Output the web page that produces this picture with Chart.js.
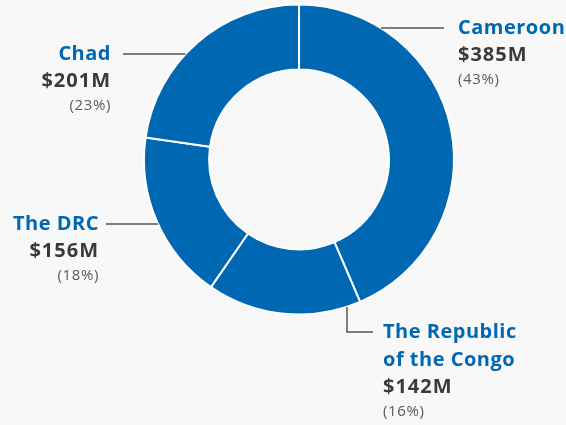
<!DOCTYPE html>
<html>
<head>
<meta charset="utf-8">
<script src="https://cdn.jsdelivr.net/npm/chart.js@4"></script>
<style>
  html, body { margin: 0; padding: 0; background: #f8f8f8; }
  #wrap { width: 566px; height: 425px; }
</style>
</head>
<body>
<div id="wrap"><canvas id="donut"></canvas></div>
<script>
// funding by country, clockwise from 12 o'clock
const countries = ["Cameroon", "The Republic\nof the Congo", "The DRC", "Chad"];
const amounts = [385, 142, 156, 201];           // $M
const shares = ["43%", "16%", "18%", "23%"];

const BLUE = "#0068b3";
const DARK = "#3a3a3a";
const GREY = "#5a5a5a";
const FONT = "'Open Sans', sans-serif";

// where each label block sits and how its leader line runs
const labelLayout = [
  { x: 458, y: 28, align: "left", lead: "h", lineEnd: 444 },
  { x: 383, y: 332, align: "left", lead: "v", lineX: 347, lineEnd: 373 },
  { x: 99, y: 224, align: "right", lead: "h", lineEnd: 106 },
  { x: 111, y: 54, align: "right", lead: "h", lineEnd: 123 },
];

const calloutPlugin = {
  id: "callouts",
  afterDraw(chart) {
    const ctx = chart.ctx;
    const arc = chart.getDatasetMeta(0).data[0];
    const cx = arc.x, cy = arc.y, r = arc.outerRadius;
    ctx.save();
    ctx.strokeStyle = "#555";
    ctx.lineWidth = 1.5;
    labelLayout.forEach((L, i) => {
      // leader line from the ring edge to the label
      ctx.beginPath();
      if (L.lead === "h") {
        const dx = Math.sqrt(r * r - (L.y - cy) * (L.y - cy));
        const sx = L.align === "left" ? cx + dx : cx - dx;
        ctx.moveTo(sx, L.y);
        ctx.lineTo(L.lineEnd, L.y);
      } else {
        const dy = Math.sqrt(r * r - (L.lineX - cx) * (L.lineX - cx));
        ctx.moveTo(L.lineX, cy + dy);
        ctx.lineTo(L.lineX, L.y);
        ctx.lineTo(L.lineEnd, L.y);
      }
      ctx.stroke();

      ctx.textAlign = L.align;
      ctx.textBaseline = "middle";
      let y = L.y;
      ctx.letterSpacing = "0.5px";
      ctx.fillStyle = BLUE;
      ctx.font = "bold 20px " + FONT;
      countries[i].split("\n").forEach((line, k) => {
        if (k > 0) y += 28;
        ctx.fillText(line, L.x, y);
      });
      y += 27;
      ctx.letterSpacing = "1px";
      ctx.fillStyle = DARK;
      ctx.font = "bold 20px " + FONT;
      ctx.fillText("$" + amounts[i] + "M", L.x, y);
      y += 25;
      ctx.fillStyle = GREY;
      ctx.letterSpacing = "0.6px";
      ctx.font = "15px " + FONT;
      ctx.fillText("(" + shares[i] + ")", L.x, y);
    });
    ctx.restore();
  }
};

new Chart(document.getElementById("donut"), {
  type: "doughnut",
  data: {
    labels: countries,
    datasets: [{
      data: amounts,
      backgroundColor: BLUE,
      borderColor: "#ffffff",
      borderWidth: 2,
      hoverOffset: 0,
    }],
  },
  options: {
    responsive: true,
    maintainAspectRatio: false,
    animation: false,
    cutout: "58%",
    layout: { padding: { left: 143, right: 111, top: 3, bottom: 109 } },
    plugins: { legend: { display: false }, tooltip: { enabled: false } },
  },
  plugins: [calloutPlugin],
});
</script>
</body>
</html>
